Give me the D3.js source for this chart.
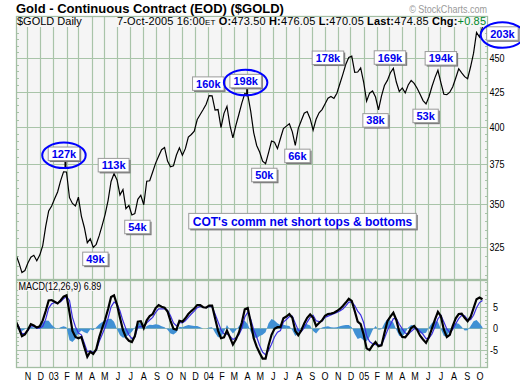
<!DOCTYPE html>
<html>
<head>
<meta charset="utf-8">
<script src="https://cdn.jsdelivr.net/npm/d3@7"></script>
<style>
  body { margin: 0; background: #fff; }
  svg text { font-family: "Liberation Sans", Arial, sans-serif; }
</style>
</head>
<body>
<div id="chart"></div>
<script>
// weekly closes, first week 5-Oct-2002
const closes = [
  320.9, 316.4, 311.2, 312.3, 316.4, 319.5, 320.6, 317.6, 320.7, 326,
  337, 346, 349, 353.4, 357.5, 364.4, 370.1, 370, 354, 350.5,
  349, 354.3, 343, 336.3, 327.6, 329.8, 325, 326.7, 331.6, 337.5,
  344, 352.4, 364, 369, 365, 355.7, 359, 347.4, 349.3, 343.6,
  344.4, 353, 355.5, 349.7, 364.2, 364.5, 370, 375.7, 380.2, 384.5,
  386, 377, 373.3, 374, 381, 385.7, 380.8, 385.2, 393, 394.7,
  397, 405, 408.5, 412, 415.8, 422, 421.8, 411.6, 412, 399.4,
  409.3, 414.3, 401, 392.4, 401, 408.5, 416.6, 423.5, 422.7, 410.7,
  396, 387.3, 383, 377, 375.4, 382.6, 390.3, 389.5, 385.2, 392,
  398.7, 400.4, 402, 396.5, 387.4, 398.9, 404.2, 409.4, 410.6, 405.6,
  397.7, 405.2, 409.7, 412, 416, 420.1, 421.4, 420, 423.7, 430.7,
  437.7, 445.4, 450.7, 451.7, 439.2, 439.5, 442.6, 432, 418, 423.8,
  425.4, 421, 411.7, 421.6, 429.4, 433.2, 439, 442.3, 432, 425,
  427.6, 424, 429.8, 433.2, 431, 427.4, 423, 418.4, 416, 421.2,
  428.7, 435.3, 440.8, 431.5, 423, 422.7, 424.5, 428.5, 435, 442,
  438.9, 436, 434.5, 443.5, 454, 470.5, 466.8, 474.85
];

const macdLine = [
  1.6, 0.0, -1.8, -1.4, -0.3, 1.0, 0.7, 0.2, 0.5, 1.9,
  4.1, 6.6, 6.7, 6.3, 5.9, 6.6, 7.5, 7.8, 3.8, -0.6,
  -2.0, -2.3, -2.0, -4.4, -6.7, -5.5, -6.0, -4.9, -2.1, 0.1,
  2.1, 4.6, 7.4, 7.8, 5.6, 2.5, -0.4, -2.1, -2.9, -3.2,
  -1.8, 1.6, 1.7, 0.1, 1.9, 2.9, 3.4, 4.8, 5.5, 5.1,
  4.9, 4.0, 1.8, -0.1, -0.3, 1.8, 1.6, 2.4, 3.4, 4.1,
  4.7, 5.5, 5.5, 5.0, 4.9, 5.4, 5.4, 2.4, -0.5, -2.3,
  -2.1, -0.5, -2.1, -3.8, -2.6, -1.0, 1.4, 4.5, 4.8, 1.4,
  -2.3, -4.3, -5.8, -7.1, -7.1, -4.0, -1.5, -0.1, 0.3, 0.3,
  2.4, 2.8, 3.4, 2.5, -0.6, -1.6, -0.5, 1.2, 2.5, 3.3,
  2.5, 0.6, 1.3, 1.9, 3.0, 3.4, 3.5, 3.7, 4.1, 4.6,
  5.3, 6.1, 7.0, 6.5, 4.1, 1.6, 1.0, -1.4, -4.7, -5.1,
  -4.0, -3.2, -4.2, -4.0, -1.1, 1.7, 2.8, 3.7, 2.0, -0.8,
  -2.0, -2.1, -1.2, 0.1, 0.6, -0.3, -1.7, -2.6, -3.4, -2.0,
  0.0, 2.1, 3.9, 2.9, -0.3, -2.0, -1.5, 0.6, 2.4, 3.4,
  3.5, 2.5, 1.7, 2.7, 4.8, 6.9, 7.3, 6.89
];

const signalLine = [
  1.3, 0.4, -1.2, -1.2, -0.5, 0.6, 0.5, 0.1, 0.1, 0.5,
  2.2, 4.8, 5.8, 6.1, 6.0, 6.3, 7.0, 7.5, 6.6, 2.6,
  0.4, -1.1, -1.5, -3.5, -5.5, -5.3, -5.6, -5.2, -3.1, -1.4,
  0.3, 2.4, 5.1, 6.2, 5.8, 4.1, 1.8, -0.1, -1.5, -2.4,
  -2.0, 0.3, 0.5, 0.4, 1.3, 2.0, 2.6, 3.8, 4.6, 4.6,
  4.6, 4.3, 3.0, 1.3, 0.6, 1.4, 1.3, 1.8, 2.6, 3.4,
  4.1, 4.9, 5.2, 5.0, 4.9, 5.2, 5.1, 3.4, 1.6, -0.3,
  -1.3, -1.3, -1.8, -2.6, -2.2, -1.5, 0.0, 2.7, 3.8, 2.2,
  -0.3, -2.0, -4.0, -5.6, -6.2, -5.2, -3.7, -2.0, -0.9, -0.5,
  1.5, 2.1, 2.8, 2.9, 1.2, -0.4, -0.7, 0.1, 1.5, 2.6,
  3.1, 1.8, 1.6, 1.7, 2.6, 2.9, 3.2, 3.5, 3.8, 4.1,
  4.6, 5.3, 6.2, 6.2, 5.4, 4.1, 3.2, 1.4, -1.7, -3.1,
  -3.6, -3.8, -3.9, -3.8, -2.3, -0.5, 0.9, 2.3, 2.3, 1.0,
  -0.1, -1.1, -1.4, -0.7, -0.1, 0.0, -0.7, -1.4, -2.4, -2.3,
  -1.3, 0.4, 2.3, 3.1, 1.5, -0.1, -0.9, -0.2, 1.1, 2.3,
  3.1, 3.0, 2.1, 2.1, 3.1, 4.9, 6.1, 6.6
];

const histogram = [
  0.3, -0.4, -0.6, -0.2, 0.2, 0.4, 0.2, 0.1, 0.4, 1.4,
  1.9, 1.8, 0.9, 0.2, -0.1, 0.3, 0.5, 0.3, -2.8, -3.2,
  -2.4, -1.2, -0.5, -0.9, -1.2, -0.2, -0.4, 0.3, 1.0, 1.5,
  1.8, 2.2, 2.3, 1.6, -0.2, -1.6, -2.2, -2.0, -1.4, -0.8,
  0.2, 1.3, 1.2, -0.3, 0.6, 0.9, 0.8, 1.0, 0.9, 0.5,
  0.3, -0.3, -1.2, -1.4, -0.9, 0.4, 0.3, 0.6, 0.8, 0.7,
  0.6, 0.6, 0.3, 0.0, 0.0, 0.2, 0.3, -1.0, -2.1, -2.0,
  -0.8, 0.8, -0.3, -1.2, -0.4, 0.5, 1.4, 1.8, 1.0, -0.8,
  -2.0, -2.3, -1.8, -1.5, -0.9, 1.2, 2.2, 1.9, 1.2, 0.8,
  0.9, 0.7, 0.6, -0.4, -1.8, -1.2, 0.2, 1.1, 1.0, 0.7,
  -0.6, -1.2, -0.3, 0.2, 0.4, 0.5, 0.3, 0.2, 0.3, 0.5,
  0.7, 0.8, 0.8, 0.3, -1.3, -2.5, -2.2, -2.8, -3.0, -2.0,
  -0.4, 0.6, -0.3, -0.2, 1.2, 2.2, 1.9, 1.4, -0.3, -1.8,
  -1.9, -1.0, 0.2, 0.8, 0.7, -0.3, -1.0, -1.2, -1.0, 0.3,
  1.3, 1.7, 1.6, -0.2, -1.8, -1.9, -0.6, 0.8, 1.3, 1.1,
  0.4, -0.5, -0.4, 0.6, 1.7, 2.0, 1.2, 0.3
];

const priceTicks = [325, 350, 375, 400, 425, 450];
const macdTicks = [-5, 0, 5];

// COT commercial net short labels, placed at date / price
const noteText = ['127k', '113k', '49k', '54k', '160k', '198k', '50k', '66k',
  '178k', '38k', '169k', '53k', '194k', '203k'];
const noteDate = ['2003-01-26', '2003-05-23', '2003-04-10', '2003-07-18', '2004-01-01',
  '2004-03-29', '2004-05-12', '2004-07-29', '2004-10-09', '2005-01-29', '2005-03-04',
  '2005-05-27', '2005-07-02', '2005-11-24'];
const notePrice = [381.8, 374.4, 318.6, 336.6, 430.8, 432.7, 368.1, 380.4,
  450.4, 404.4, 450.6, 407.5, 450, 469.6];
const circled = ['127k', '198k', '203k'];
const leaders = ['127k', '198k'];
const caption = "COT's comm net short tops & bottoms";
const captionDate = '2004-08-10';
const captionPrice = 340.0;

const title = 'Gold - Continuous Contract (EOD) ($GOLD)';
const symbolText = '$GOLD Daily';
const quote = [
  ['7-Oct-2005 16:00', 'n'], ['ET', 's'], [' ', 'n'],
  ['O:', 'b'], ['473.50 ', 'n'], ['H:', 'b'], ['476.05 ', 'n'],
  ['L:', 'b'], ['470.05 ', 'n'], ['Last:', 'b'], ['474.85 ', 'n'],
  ['Chg:', 'b'], ['+0.85', 'g']
];
const macdTitle = 'MACD(12,26,9) 6.89';

const W = 520, H = 384;
const L = 16, R = 488;
const mainTop = 16, mainBot = 279.5, macdTop = 280.5, macdBot = 367.5;
const gridColor = '#a9c4a9';
const plotBg = '#f5f5f5';
const NARROW = '"Liberation Sans Narrow", "Arial Narrow", "Liberation Sans", sans-serif';

const svg = d3.select('#chart').append('svg')
  .attr('width', W).attr('height', H);

// check whether a narrow face exists, otherwise squeeze with textLength
const probe = svg.append('text').style('font-size', '11px').text('0000000000');
const wideW = probe.node().getComputedTextLength();
probe.style('font-family', NARROW);
const narrowOk = probe.node().getComputedTextLength() < wideW * 0.9;
probe.remove();
function narrow(sel) {
  sel.style('font-family', NARROW);
  if (!narrowOk) {
    sel.each(function () {
      const w = this.getComputedTextLength();
      d3.select(this).attr('textLength', w * 0.82).attr('lengthAdjust', 'spacingAndGlyphs');
    });
  }
  return sel;
}

const weeks = d3.timeSaturday.range(new Date(2002, 9, 5), new Date(2005, 9, 9));
const parse = d3.timeParse('%Y-%m-%d');

const x = d3.scaleTime()
  .domain([new Date(2002, 9, 5), new Date(2005, 9, 21)])
  .range([L, R]);
const y = d3.scaleLog().domain([307.5, 484]).range([mainBot, mainTop]);
const ym = d3.scaleLinear().domain([-9.2, 11.3]).range([macdBot, macdTop]);

const months = d3.timeMonth.range(new Date(2002, 10, 1), new Date(2005, 10, 1));

// title row
svg.append('text').attr('x', 16).attr('y', 13)
  .style('font-size', '13px').style('font-weight', 'bold').text(title);
const copy = svg.append('text').attr('x', 487).attr('y', 13).attr('text-anchor', 'end')
  .style('font-size', '11px').attr('fill', '#9a9a9a').text('\u00a9 StockCharts.com');
narrow(copy);

// panel backgrounds
svg.append('rect').attr('x', L + 0.5).attr('y', mainTop + 0.5)
  .attr('width', R - L - 1).attr('height', mainBot - mainTop - 0.5).attr('fill', plotBg);
svg.append('rect').attr('x', L + 0.5).attr('y', macdTop)
  .attr('width', R - L - 1).attr('height', macdBot - macdTop).attr('fill', plotBg);

const grid = svg.append('g').attr('stroke', gridColor).attr('stroke-width', 1.2);
months.forEach(m => {
  const gx = Math.round(x(m)) + 0.5;
  grid.append('line').attr('x1', gx).attr('x2', gx).attr('y1', mainTop).attr('y2', mainBot);
  grid.append('line').attr('x1', gx).attr('x2', gx).attr('y1', macdTop).attr('y2', macdBot);
});
priceTicks.forEach(v => {
  const gy = Math.round(y(v)) + 0.5;
  grid.append('line').attr('x1', L).attr('x2', R).attr('y1', gy).attr('y2', gy);
});
macdTicks.forEach(v => {
  const gy = Math.round(ym(v)) + 0.5;
  grid.append('line').attr('x1', L).attr('x2', R).attr('y1', gy).attr('y2', gy);
});

// minor ticks
const ticks = svg.append('g').attr('stroke', gridColor).attr('stroke-width', 1);
d3.range(310, 484, 5).filter(v => v % 25 !== 0).forEach(v => {
  const ty = Math.round(y(v)) + 0.5;
  ticks.append('line').attr('x1', L).attr('x2', L + 3).attr('y1', ty).attr('y2', ty);
  ticks.append('line').attr('x1', R - 3).attr('x2', R).attr('y1', ty).attr('y2', ty);
});
d3.range(-9, 12, 1).filter(v => v % 5 !== 0).forEach(v => {
  const ty = Math.round(ym(v)) + 0.5;
  ticks.append('line').attr('x1', L).attr('x2', L + 3).attr('y1', ty).attr('y2', ty);
  ticks.append('line').attr('x1', R - 3).attr('x2', R).attr('y1', ty).attr('y2', ty);
});

// panel borders
svg.append('rect').attr('x', L + 0.5).attr('y', mainTop + 0.5)
  .attr('width', R - L - 1).attr('height', mainBot - mainTop - 0.5)
  .attr('fill', 'none').attr('stroke', '#a3bea3').attr('stroke-width', 1.3);
svg.append('rect').attr('x', L + 0.5).attr('y', macdTop)
  .attr('width', R - L - 1).attr('height', macdBot - macdTop)
  .attr('fill', 'none').attr('stroke', '#a3bea3').attr('stroke-width', 1.3);

// clip paths
const defs = svg.append('defs');
defs.append('clipPath').attr('id', 'clipMain').append('rect')
  .attr('x', L + 1).attr('y', mainTop + 1).attr('width', R - L - 2).attr('height', mainBot - mainTop - 1);
defs.append('clipPath').attr('id', 'clipMacd').append('rect')
  .attr('x', L + 1).attr('y', macdTop + 0.5).attr('width', R - L - 2).attr('height', macdBot - macdTop - 1);

// header labels with background over the grid
const hdr = svg.append('g');
const bg1 = hdr.append('rect').attr('x', 17).attr('y', 17).attr('height', 10).attr('fill', plotBg);
const t1 = hdr.append('text').attr('x', 17).attr('y', 25).style('font-size', '11px').text(symbolText);
bg1.attr('width', t1.node().getComputedTextLength() + 2);

const bg2 = hdr.append('rect').attr('x', 115).attr('y', 17).attr('height', 10).attr('fill', plotBg);
const t2 = hdr.append('text').attr('x', 117).attr('y', 25).style('font-size', '11px');
quote.forEach(([s, k]) => {
  const ts = t2.append('tspan').text(s);
  if (k === 'b') ts.style('font-weight', 'bold');
  if (k === 's') ts.style('font-size', '8px');
  if (k === 'g') ts.attr('fill', '#00892b');
});
t2.attr('textLength', 369).attr('lengthAdjust', 'spacing');
bg2.attr('width', 372);

// price line
svg.append('path')
  .datum(closes)
  .attr('clip-path', 'url(#clipMain)')
  .attr('fill', 'none').attr('stroke', '#000').attr('stroke-width', 1.2)
  .attr('d', d3.line().x((d, i) => x(weeks[i])).y(d => y(d)));

// price axis labels
const pl = svg.append('g').selectAll('text').data(priceTicks).join('text')
  .attr('x', 489.5).attr('y', d => y(d) + 4)
  .style('font-size', '11px').text(d => d);
narrow(pl);

// annotations
const notes = svg.append('g');
noteText.forEach((t, i) => {
  const cx = x(parse(noteDate[i]));
  const cy = y(notePrice[i]);
  const g = notes.append('g');
  const lead = g.append('line');
  const shadow = g.append('rect');
  const box = g.append('rect');
  const txt = g.append('text').attr('x', cx).attr('y', cy + 4).attr('text-anchor', 'middle')
    .style('font-size', '11px').style('font-weight', 'bold').attr('fill', '#0000ee').text(t);
  const tw = txt.node().getComputedTextLength();
  const bw = tw + 7, bh = 13.5;
  shadow.attr('x', cx - bw / 2 + 1.5).attr('y', cy - bh / 2 + 1.5)
    .attr('width', bw).attr('height', bh).attr('fill', '#777');
  box.attr('x', cx - bw / 2).attr('y', cy - bh / 2)
    .attr('width', bw).attr('height', bh).attr('fill', '#fff')
    .attr('stroke', '#9a9a9a').attr('stroke-width', 1);
  if (leaders.includes(t)) {
    lead.attr('x1', cx + 1.5).attr('x2', cx + 1.5)
      .attr('y1', cy + bh / 2).attr('y2', cy + bh / 2 + 8.5)
      .attr('stroke', '#000').attr('stroke-width', 2);
  } else {
    lead.remove();
  }
  if (circled.includes(t)) {
    g.append('ellipse').attr('cx', cx).attr('cy', cy + 1.5)
      .attr('rx', bw / 2 + 6).attr('ry', bh / 2 + 6)
      .attr('fill', 'none').attr('stroke', '#0000ff').attr('stroke-width', 2);
  }
});

// caption box
{
  const cx = x(parse(captionDate)), cy = y(captionPrice);
  const g = svg.append('g');
  const shadow = g.append('rect');
  const box = g.append('rect');
  const txt = g.append('text').attr('x', cx).attr('y', cy + 4.5).attr('text-anchor', 'middle')
    .style('font-size', '12px').style('font-weight', 'bold').attr('fill', '#0000ee').text(caption);
  const tw = txt.node().getComputedTextLength();
  const bw = tw + 8, bh = 15.5;
  shadow.attr('x', cx - bw / 2 + 1.5).attr('y', cy - bh / 2 + 1.5)
    .attr('width', bw).attr('height', bh).attr('fill', '#777');
  box.attr('x', cx - bw / 2).attr('y', cy - bh / 2)
    .attr('width', bw).attr('height', bh).attr('fill', '#fff')
    .attr('stroke', '#9a9a9a').attr('stroke-width', 1);
}

// MACD panel
const mg = svg.append('g').attr('clip-path', 'url(#clipMacd)');
mg.append('path').datum(histogram)
  .attr('fill', '#4090d4').attr('stroke', 'none')
  .attr('d', d3.area().x((d, i) => x(weeks[i])).y0(ym(0)).y1(d => ym(d)));
mg.append('path').datum(signalLine)
  .attr('fill', 'none').attr('stroke', '#3a2ee0').attr('stroke-width', 1.2)
  .attr('d', d3.line().x((d, i) => x(weeks[i])).y(d => ym(d)));
mg.append('path').datum(macdLine)
  .attr('fill', 'none').attr('stroke', '#000').attr('stroke-width', 2.2)
  .attr('d', d3.line().x((d, i) => x(weeks[i])).y(d => ym(d)));

const mbg = svg.append('rect').attr('x', 18).attr('y', 282).attr('height', 9).attr('fill', plotBg);
const mt = svg.append('text').attr('x', 18.5).attr('y', 290).style('font-size', '11px').text(macdTitle);
narrow(mt);
mbg.attr('width', mt.node().getBBox().width + 2);

const ml = svg.append('g').selectAll('text').data(macdTicks).join('text')
  .attr('x', 498).attr('y', d => ym(d) + 4).attr('text-anchor', 'end')
  .style('font-size', '11px').text(d => d);
narrow(ml);

// month labels
const fy = d3.timeFormat('%y'), fm = d3.timeFormat('%b');
const xl = svg.append('g').selectAll('text').data(months).join('text')
  .attr('x', d => x(d) + 0.5).attr('y', 380).attr('text-anchor', 'middle')
  .style('font-size', '11px')
  .text(d => d.getMonth() === 0 ? fy(d) : fm(d)[0]);
narrow(xl);
</script>
</body>
</html>
